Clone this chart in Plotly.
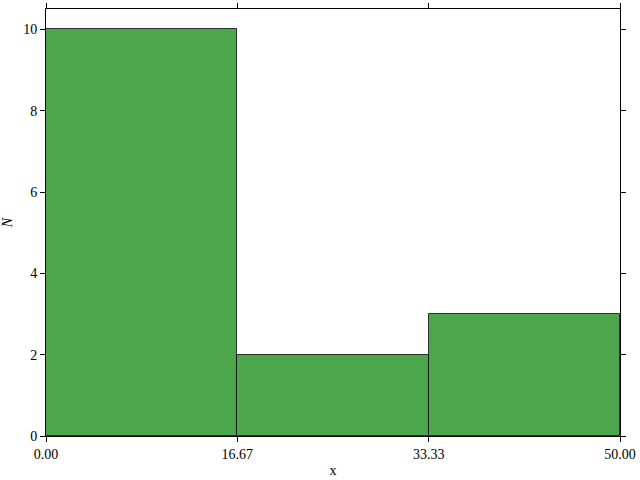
import plotly.graph_objects as go

# histogram
bin_edges = [0.0, 50 / 3, 100 / 3, 50.0]
counts = [10, 2, 3]
x_tick_labels = ["0.00", "16.67", "33.33", "50.00"]
y_ticks = [0, 2, 4, 6, 8, 10]

centers = [(a + b) / 2 for a, b in zip(bin_edges[:-1], bin_edges[1:])]
widths = [b - a for a, b in zip(bin_edges[:-1], bin_edges[1:])]

font = dict(family="Liberation Serif, DejaVu Serif, serif", size=14, color="black")

fig = go.Figure()
fig.add_trace(
    go.Bar(
        x=centers,
        y=counts,
        width=widths,
        marker=dict(
            color="rgba(0,128,0,0.7)",
            line=dict(color="rgba(0,0,0,0.75)", width=1),
        ),
    )
)

axis_common = dict(
    showline=True,
    linecolor="black",
    linewidth=1,
    mirror="allticks",
    ticks="outside",
    ticklen=5,
    tickcolor="black",
    showgrid=False,
    zeroline=False,
    tickfont=font,
    automargin=False,
)

fig.update_xaxes(
    range=[0, 50],
    tickvals=bin_edges,
    ticktext=x_tick_labels,
    title=dict(text="x", font=font, standoff=4),
    **axis_common,
)
fig.update_yaxes(
    range=[0, 10.5],
    tickvals=y_ticks,
    title=dict(text="<i>N</i>", font=font, standoff=12),
    **axis_common,
)

fig.update_layout(
    width=640,
    height=480,
    margin=dict(l=46, r=20, t=9, b=44),
    plot_bgcolor="white",
    paper_bgcolor="white",
    showlegend=False,
    bargap=0,
    font=font,
)

# the page has a default 8px body margin, drop it so the figure sits at 0,0
fig.write_html(
    "out.html",
    config={"displayModeBar": False},
    post_script="document.body.style.margin = '0';",
)
